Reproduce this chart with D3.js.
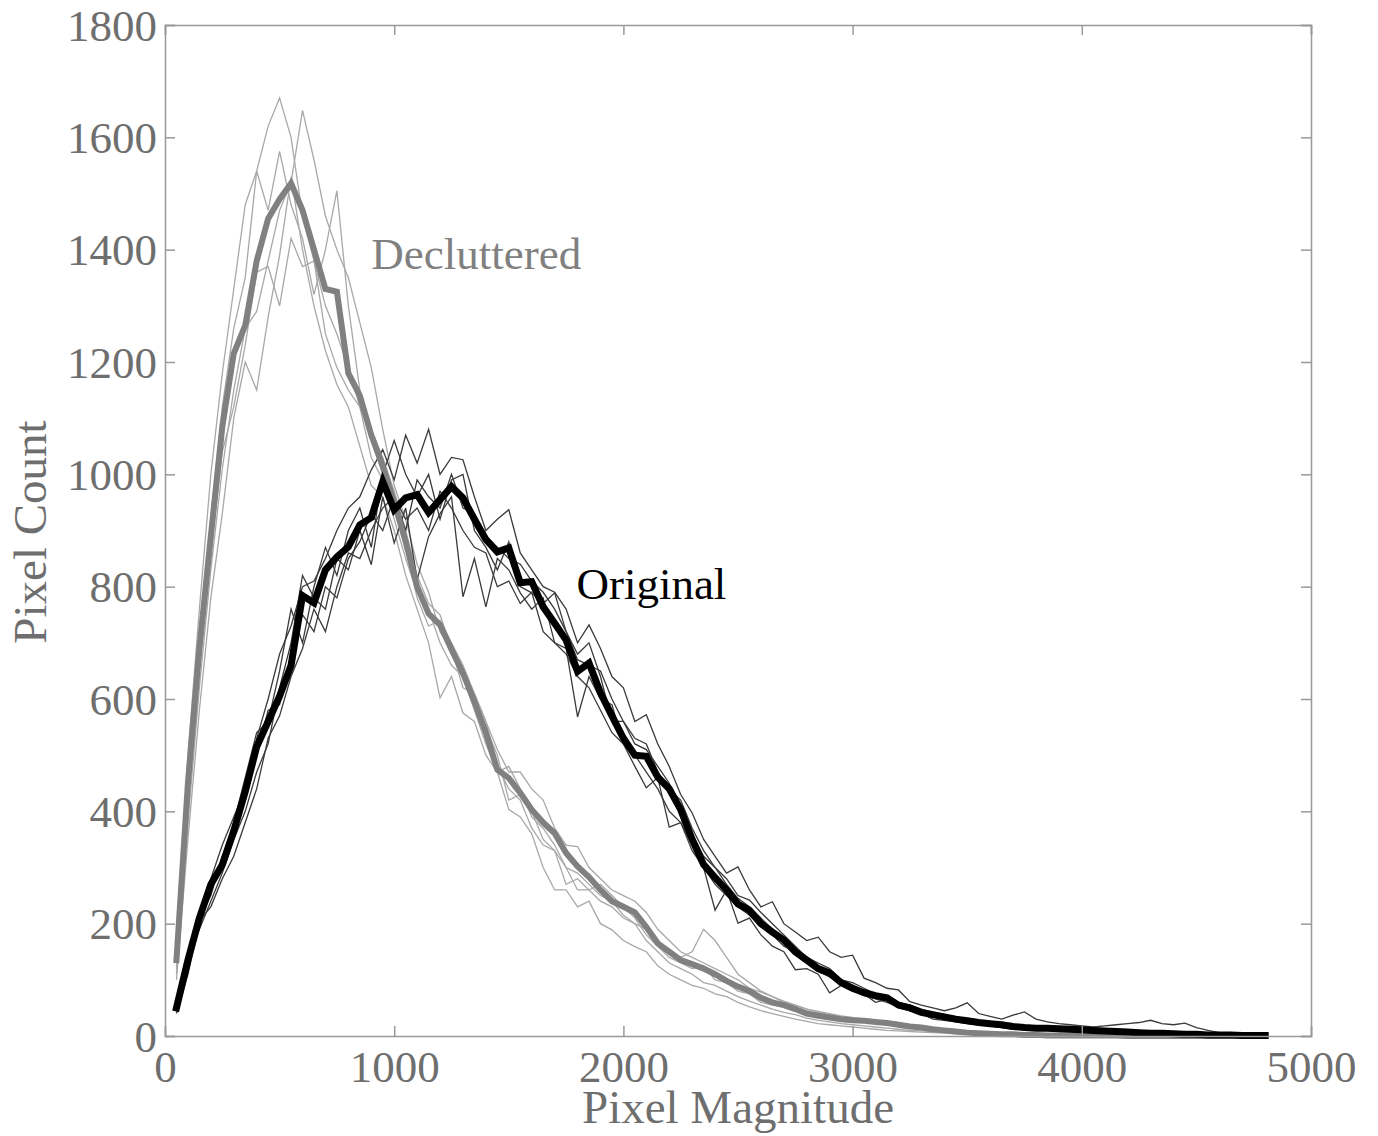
<!DOCTYPE html>
<html><head><meta charset="utf-8">
<script src="https://cdn.jsdelivr.net/npm/d3@7"></script>
<style>body{margin:0;background:#fff}svg{display:block}text{font-family:"Liberation Serif","Times New Roman",serif}</style>
</head><body>
<svg id="chart" width="1378" height="1136"></svg>
<script>
// bin centres: 50, 100, ..., 4800
const binStep = 50;
const binCount = 96;

const declutteredMean = [135,450,690,890,1085,1215,1265,1380,1455,1490,1518,1470,1400,1330,1325,1180,1140,1070,1015,950,
880,800,752,732,688,646,595,540,474,459,433,403,380,361,326,302,283,260,240,230,
220,194,165,150,135,128,120,110,98,88,80,68,60,55,48,40,36,33,30,28,
27,25,23,20,17,15,12,10,8,6,5,4,3,3,2,2,1,1,1,1,
1,1,1,0,0,0,0,0,0,0,0,0,0,0,0,0];

const originalMean = [50,135,210,270,305,365,435,515,560,605,660,784,771,830,853,871,910,923,987,937,
958,964,932,955,978,958,920,884,862,869,807,809,764,735,705,649,664,611,570,530,
500,498,461,440,403,350,305,282,260,235,224,200,185,171,150,135,120,112,95,85,
77,72,68,55,50,42,38,34,30,27,24,22,20,17,15,14,14,13,12,11,
10,9,8,7,6,5,5,4,3,3,2,2,2,1,1,1];

const declutteredRuns = [
[150,500,760,1000,1180,1330,1480,1540,1620,1670,1600,1460,1380,1300,1250,1190,1120,1030,990,920,
850,790,760,700,660,640,580,520,470,480,440,390,370,340,300,290,270,250,240,215,
200,190,160,140,130,120,125,100,95,80,75,60,55,52,45,38,35,30,28,25,
25,22,20,18,15,13,11,9,7,6,5,4,3,2,2,1,1,1,0,0,
0,0,0,0,0,0,0,0,0,0,0,0,0,0,0,0],
[110,380,620,830,1010,1150,1260,1290,1380,1470,1520,1648,1560,1460,1400,1350,1270,1190,1080,980,
920,840,790,720,690,620,610,560,510,470,470,440,420,370,340,337,300,280,260,250,
240,220,190,170,150,140,130,120,110,100,85,78,70,62,55,48,44,40,36,33,
30,28,26,24,20,18,15,12,10,8,6,5,4,3,2,2,1,1,1,0,
0,0,0,0,0,0,0,0,0,0,0,0,0,0,0,0],
[130,430,700,920,1120,1260,1350,1540,1470,1575,1480,1420,1320,1400,1505,1300,1150,1060,1000,940,
870,780,730,740,700,660,610,560,480,440,420,370,340,330,270,280,260,240,230,210,
200,170,150,130,120,110,95,90,80,70,62,55,48,42,38,32,28,25,22,20,
18,16,14,12,10,9,8,6,5,4,3,3,2,2,1,1,1,0,0,0,
0,0,0,0,0,0,0,0,0,0,0,0,0,0,0,0],
[120,400,650,860,1040,1120,1230,1360,1370,1300,1420,1370,1380,1250,1190,1150,1120,1080,1030,970,
900,820,770,750,690,640,600,550,500,420,430,400,350,330,300,260,260,270,250,230,
210,180,160,150,140,150,190,170,140,110,95,80,70,60,55,48,42,38,34,30,
28,26,24,20,18,16,14,12,10,8,6,5,4,3,2,2,1,1,1,0,
0,0,0,0,0,0,0,0,0,0,0,0,0,0,0,0],
[100,350,580,780,930,1100,1200,1150,1280,1390,1530,1400,1300,1220,1160,1120,1050,980,960,900,
820,760,700,602,640,575,560,500,470,403,390,360,300,260,260,230,240,200,189,170,
159,150,125,110,100,90,85,75,70,60,52,45,40,35,30,26,22,20,18,16,
14,12,10,9,8,7,6,5,4,3,2,2,1,1,1,0,0,0,0,0,
0,0,0,0,0,0,0,0,0,0,0,0,0,0,0,0]
];

const originalRuns = [
[45,120,220,280,340,390,440,530,600,680,730,800,810,850,900,940,960,1008,1044,990,
1070,1020,1080,1000,1030,1026,960,900,920,937,860,830,800,790,760,700,732,690,640,620,
560,572,520,480,430,397,350,320,290,301,260,230,239,200,185,170,176,150,140,144,
103,95,85,82,61,55,50,45,50,59,40,35,30,37,43,30,25,22,20,18,
16,18,20,22,24,28,22,20,23,15,10,6,4,2,1,1],
[55,140,190,240,290,350,400,470,520,620,700,820,780,760,850,830,900,839,960,878,
940,812,889,930,960,782,850,764,850,830,789,760,780,700,690,568,640,600,590,520,
480,442,460,372,380,330,300,224,260,201,210,180,160,150,118,120,110,77,90,80,
75,60,65,50,45,40,30,28,25,22,20,18,15,12,12,10,10,8,8,6,
6,5,5,4,4,3,3,2,2,2,1,1,1,1,1,1],
[40,110,200,260,310,380,460,540,560,650,760,700,800,870,820,900,940,870,1000,1060,
1000,960,1000,920,990,1000,900,870,830,880,800,789,770,789,720,680,700,640,560,560,
530,520,470,440,420,370,330,300,280,250,242,220,200,180,160,140,130,120,100,95,
85,75,70,60,55,48,42,38,34,30,26,22,20,18,16,14,12,10,9,8,
7,6,5,5,4,4,3,3,2,2,1,1,1,1,1,1],
[50,125,210,250,320,360,420,500,580,590,680,750,720,800,780,850,880,930,900,960,
920,940,900,970,940,900,870,860,800,810,770,790,720,700,680,640,620,580,540,520,
500,470,440,400,380,340,300,270,250,230,215,195,180,160,150,130,115,105,92,82,
72,66,60,52,48,42,36,32,28,25,22,20,17,15,14,12,11,10,9,8,
7,6,5,5,4,4,3,3,2,2,1,1,1,1,1,1],
[45,130,205,230,280,320,380,440,530,570,640,690,760,720,800,860,850,900,940,960,
900,990,960,940,1000,940,930,890,870,850,840,810,790,760,720,670,660,650,600,560,
520,510,480,450,410,360,320,300,270,245,230,210,190,175,155,140,125,115,100,90,
80,75,65,60,52,46,40,36,32,28,24,22,19,16,15,13,12,10,9,8,
7,6,6,5,4,4,3,3,2,2,1,1,1,1,1,1]
];

const xTicks = [0,1000,2000,3000,4000,5000];
const yTicks = [0,200,400,600,800,1000,1200,1400,1600,1800];
const labels = {x:"Pixel Magnitude", y:"Pixel Count", declut:"Decluttered", orig:"Original"};

const binCentres = d3.range(1, binCount + 1).map(i => i * binStep);

const svg = d3.select("#chart");
const L = 165, R = 1311, T = 25, B = 1036;
const x = d3.scaleLinear().domain([0, 5000]).range([L, R]);
const y = d3.scaleLinear().domain([0, 1800]).range([B, T]);

const line = d3.line().x((d, i) => x(binCentres[i])).y(d => y(d));

const plot = svg.append("g");
function draw(arr, color, width, cap) {
  plot.append("path").datum(arr).attr("d", line)
    .attr("fill", "none").attr("stroke", color).attr("stroke-width", width)
    .attr("stroke-linejoin", "miter").attr("stroke-linecap", cap || "butt");
}
declutteredRuns.forEach(r => draw(r, "#a8a8a8", 1.3));
originalRuns.forEach(r => draw(r, "#3a3a3a", 1.3));
draw(declutteredMean, "#808080", 6, "square");
draw(originalMean, "#000000", 7, "square");

// axes box with inward ticks
const axisColor = "#999";
const gx = svg.append("g").attr("transform", `translate(0,${B})`)
  .call(d3.axisBottom(x).tickValues(xTicks).tickSize(-10).tickPadding(14).tickFormat(d3.format("d")));
const gxt = svg.append("g").attr("transform", `translate(0,${T})`)
  .call(d3.axisTop(x).tickValues(xTicks).tickSize(-10).tickFormat(""));
const gy = svg.append("g").attr("transform", `translate(${L},0)`)
  .call(d3.axisLeft(y).tickValues(yTicks).tickSize(-10).tickPadding(8).tickFormat(d3.format("d")));
const gyr = svg.append("g").attr("transform", `translate(${R},0)`)
  .call(d3.axisRight(y).tickValues(yTicks).tickSize(-10).tickFormat(""));
[gx, gxt, gy, gyr].forEach(g => {
  g.selectAll(".domain").attr("stroke", axisColor).attr("stroke-width", 1.5);
  g.selectAll(".tick line").attr("stroke", axisColor).attr("stroke-width", 1.5);
  g.selectAll("text").attr("fill", "#6e6e6e").attr("font-size", 45)
    .attr("font-family", "'Liberation Serif', serif");
});
gx.selectAll(".tick text").attr("dy", "0.71em");
gy.selectAll(".tick text").attr("dy", "0.34em");

svg.append("text").attr("x", 738).attr("y", 1123).attr("text-anchor", "middle")
  .attr("font-size", 47).attr("fill", "#6e6e6e").text(labels.x);
svg.append("text").attr("transform", "translate(46,532) rotate(-90)").attr("text-anchor", "middle")
  .attr("font-size", 47).attr("fill", "#6e6e6e").text(labels.y);

svg.append("text").attr("x", x(900)).attr("y", y(1366)).attr("font-size", 45)
  .attr("fill", "#808080").text(labels.declut);
svg.append("text").attr("x", x(1795)).attr("y", y(778)).attr("font-size", 45)
  .attr("fill", "#000").text(labels.orig);
</script>
</body></html>
